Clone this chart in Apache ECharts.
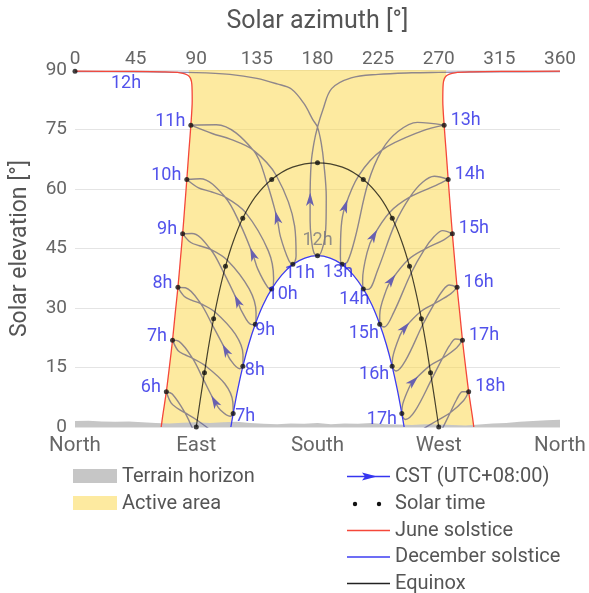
<!DOCTYPE html>
<html>
<head>
<meta charset="utf-8">
<title>Sun path</title>
<script src="https://cdn.jsdelivr.net/npm/echarts@6/dist/echarts.min.js"></script>
<style>
  html, body { margin: 0; padding: 0; background: #fff; }
  #chart { width: 589px; height: 593px; }
</style>
</head>
<body>
<div id="chart"></div>
<script>
// azimuth / elevation in degrees
const compassLabels = ['North', 'East', 'South', 'West', 'North'];

const horizon = [[0,1.5],[10,1.6],[20,1.4],[30,1.3],[40,1.4],[50,1.2],[60,1.0],[70,0.9],[80,1.1],[90,1.2],
  [100,1.0],[110,1.2],[120,1.3],[130,1.0],[140,0.8],[150,0.7],[160,0.9],[170,0.8],[180,1.0],[190,0.7],
  [200,0.9],[210,0.8],[220,1.0],[230,0.7],[240,0.6],[250,0.5],[260,0.7],[270,0.6],[280,0.5],[290,0.4],
  [300,0.6],[310,0.9],[320,1.0],[330,1.3],[340,1.5],[350,1.7],[360,1.8]];

const juneAm = [[64.0,0],[65.1,2.8],[67.8,8.9],[70.2,15.5],[72.4,21.9],[74.4,28.7],[76.4,35.2],[78.2,42.1],
  [79.9,48.7],[81.5,55.7],[83.0,62.4],[84.5,69.4],[86.0,76.1],[87.0,82.3],[86.7,86.5],[84.5,88.5],
  [78,89.3],[65,89.55],[40,89.65],[0,89.7]];
const junePm = [[360,89.7],[320,89.65],[295,89.55],[282,89.3],[275.5,88.5],[273.3,86.5],[273.0,82.3],
  [274.0,76.1],[275.5,69.4],[277.0,62.4],[278.5,55.7],[280.1,48.7],[281.8,42.1],[283.6,35.2],[285.6,28.7],
  [287.6,21.9],[289.8,15.5],[292.2,8.9],[294.9,2.8],[296.0,0]];
const decLine = [[115.7,0],[117.4,3.4],[120.8,9.5],[124.6,15.3],[128.9,20.8],[133.8,25.9],[139.5,30.7],
  [146.0,34.8],[153.4,38.3],[161.7,41.0],[170.6,42.6],[180,43.2],[189.4,42.6],[198.3,41.0],[206.6,38.3],
  [214.0,34.8],[220.5,30.7],[226.2,25.9],[231.1,20.8],[235.4,15.3],[239.2,9.5],[242.6,3.4],[244.3,0]];
const equinoxLine = [[90,0],[93.0,6.9],[96.1,13.7],[99.3,20.6],[102.9,27.3],[107.0,34.0],[111.7,40.5],
  [117.4,46.7],[124.5,52.6],[133.8,58.0],[146.0,62.4],[161.5,65.5],[180,66.6],[198.5,65.5],[214.0,62.4],
  [226.2,58.0],[235.5,52.6],[242.6,46.7],[248.3,40.5],[253.0,34.0],[257.1,27.3],[260.7,20.6],[263.9,13.7],
  [267.0,6.9],[270,0]];

// solar-time dots
const juneNoon = [[0,89.7]];
const juneDotsAm = [[67.8,8.9],[72.4,21.9],[76.4,35.2],[79.9,48.7],[83.0,62.4],[86.0,76.1]];
const juneDotsPm = [[274.0,76.1],[277.0,62.4],[280.1,48.7],[283.6,35.2],[287.6,21.9],[292.2,8.9]];
const equinoxDots = [[90,0],[96.1,13.7],[102.9,27.3],[111.7,40.5],[124.5,52.6],[146.0,62.4],[180,66.6],
  [214.0,62.4],[235.5,52.6],[248.3,40.5],[257.1,27.3],[263.9,13.7],[270,0]];
const decDots = [[117.4,3.4],[124.6,15.3],[133.8,25.9],[146.0,34.8],[161.7,41.0],[180,43.2],
  [198.3,41.0],[214.0,34.8],[226.2,25.9],[235.4,15.3],[242.6,3.4]];

const hoursAm = ['6h','7h','8h','9h','10h','11h'];
const hoursPm = ['13h','14h','15h','16h','17h','18h'];
const decHours = ['7h','8h','9h','10h','11h','12h','13h','14h','15h','16h','17h'];

// CST hour analemmas: Jun, Jul, Aug, cross, Sep, Nov, Dec1, Dec21, Jan, Feb, (arrow), Mar, cross, May, Jun
const a06 = [[67.8,8.9],[71.3,6.1],[75.7,4.8],[81.6,3.6],[90.7,1.7],[104.9,-2.2],[111.2,-6.1],[111.7,-9.1],
  [109.6,-10.1],[102.1,-9.0],[98.5,-6.5],[89.3,-1.7],[81.6,3.6],[72.2,8.3],[67.8,8.9]];
const a07 = [[72.4,21.9],[76.4,19.3],[81.1,18.3],[87.3,17.3],[96.9,15.4],[111.2,10.9],[117.1,6.4],[117.4,3.4],
  [115.2,2.7],[107.9,4.3],[103.9,6.3],[95.3,12.0],[87.3,17.3],[77.2,21.6],[72.4,21.9]];
const a08 = [[76.4,35.2],[81.2,32.9],[86.4,32.0],[93.3,31.1],[103.9,29.0],[119.0,23.4],[124.7,18.2],[124.6,15.3],
  [122.2,14.7],[114.8,17.2],[112.1,19.2],[102.0,25.7],[93.3,31.1],[81.9,35.1],[76.4,35.2]];
const a09 = [[79.9,48.7],[86.0,46.5],[92.3,45.7],[100.6,44.8],[112.9,42.1],[129.3,34.8],[134.4,28.8],[133.8,25.9],
  [131.2,25.8],[123.7,29.2],[120.8,31.6],[110.4,38.9],[100.6,44.8],[86.8,48.8],[79.9,48.7]];
const a10 = [[83.0,62.4],[91.7,60.3],[100.2,59.4],[111.3,58.0],[126.5,54.1],[143.5,44.4],[147.4,37.5],[146.0,34.8],
  [143.1,35.2],[135.7,39.8],[132.1,43.4],[122.5,51.2],[111.3,58.0],[92.9,62.6],[83.0,62.4]];
const a11 = [[86.0,76.1],[101.8,74.0],[115.7,72.5],[132.3,69.8],[149.4,63.4],[163.0,50.7],[164.1,43.2],[161.7,41.0],
  [158.8,41.9],[152.5,48.0],[150.0,52.6],[142.5,61.5],[132.3,69.8],[104.9,76.2],[86.0,76.1]];
const a12 = [[0,89.6],[45,89.55],[90,89.35],[115,88.9],[135,87.9],[150,86.5],[160.6,85.2],[170,81.5],[176.5,77.5],
  [180,75.6],[182.8,71.5],[184.7,66.5],[186.5,58],[186.3,51.4],[184.8,46.5],[180.6,43.2],[177.5,43.8],[175.4,47.5],
  [174.5,52],[174.5,57.2],[175.3,66.5],[177.3,71.5],[180,75.6],[184,80],[190.5,85.3],[205,88.0],[225,88.9],
  [250,89.3],[270,89.4],[315,89.55],[360,89.6]];
const a13 = [[274.0,76.1],[254.2,76.8],[239.7,74.5],[227.8,69.8],[217.5,61.5],[208.1,47.9],[202.3,41.7],[198.3,41.0],
  [197.0,43.0],[197.6,50.5],[200.4,55.5],[210.6,63.4],[227.8,69.8],[257.4,74.6],[274.0,76.1]];
const a14 = [[277.0,62.4],[266.7,63.2],[258.0,61.7],[248.7,58.0],[237.5,51.2],[224.7,39.6],[217.7,34.7],[214.0,34.8],
  [213.5,37.1],[216.9,44.1],[221.5,48.1],[233.5,54.1],[248.7,58.0],[268.0,60.9],[277.0,62.4]];
const a15 = [[280.1,48.7],[272.9,49.5],[266.6,48.0],[259.4,44.8],[249.6,38.9],[236.6,28.9],[229.5,25.2],[226.2,25.9],
  [226.2,28.2],[231.0,34.5],[234.6,36.9],[247.1,42.1],[259.4,44.8],[273.8,47.2],[280.1,48.7]];
const a16 = [[283.6,35.2],[277.8,35.8],[272.7,34.3],[266.7,31.1],[258.0,25.7],[245.4,16.8],[238.3,14.1],[235.4,15.3],
  [235.8,17.5],[241.2,23.1],[244.5,24.9],[256.2,29.0],[266.7,31.1],[278.6,33.5],[283.6,35.2]];
const a17 = [[287.6,21.9],[282.5,22.2],[278.0,20.5],[272.7,17.3],[264.7,12.0],[252.3,4.0],[245.2,1.9],[242.6,3.4],
  [243.2,5.7],[248.9,10.6],[250.7,11.4],[263.2,15.4],[272.7,17.3],[283.3,20.0],[287.6,21.9]];
const a18 = [[292.2,8.9],[287.6,8.9],[283.4,7.0],[278.5,3.6],[270.7,-1.7],[258.1,-9.3],[250.7,-10.8],[248.3,-9.1],
  [249.2,-6.9],[255.2,-2.5],[257.5,-0.8],[269.3,1.7],[278.5,3.6],[288.5,6.7],[292.2,8.9]];

const FONT = 'Roboto';
const analemmaColor = 'rgba(70,68,125,0.6)';
const arrowColor = '#6860b0';
const labelBlue = '#2626e6';
const yellow = 'rgba(251,214,66,0.5)';
const terrainGrey = '#c6c6c6';

const analemmas = [
  { pts: a06, arrow: 10 }, { pts: a07, arrow: 10 }, { pts: a08, arrow: 10 }, { pts: a09, arrow: 10 },
  { pts: a10, arrow: 10 }, { pts: a11, arrow: 10 }, { pts: a12, arrow: 19 }, { pts: a13, arrow: 10 },
  { pts: a14, arrow: 10 }, { pts: a15, arrow: 10 }, { pts: a16, arrow: 10 }, { pts: a17, arrow: 10 },
  { pts: a18, arrow: 10 }
];

const arrowData = analemmas
  .filter(a => a.pts[a.arrow][1] > 0)
  .map(a => {
    const p = a.pts, i = a.arrow;
    return [p[i][0], p[i][1], p[i - 1][0], p[i - 1][1], p[i + 1][0], p[i + 1][1]];
  });

const activeArea = [].concat(juneAm.slice(0, 16), [[84.5, 90], [275.5, 90]], junePm.slice(4), decLine.slice().reverse());

// label placement (px) around the December dots
const decLabelOffsets = [[12,3],[12,4],[10,6],[11,6],[7,9],[0,-15],[-4,8],[-9,11],[-16,9],[-18,8],[-20,6]];

const chart = echarts.init(document.getElementById('chart'));

const labelStyle = { fontFamily: FONT, fontSize: 18, color: labelBlue };

const series = [
  {
    name: 'Active area',
    type: 'custom',
    z: 1,
    silent: true,
    data: [[0, 0]],
    renderItem: function (params, api) {
      return {
        type: 'polygon',
        shape: { points: activeArea.map(p => api.coord(p)) },
        style: { fill: yellow }
      };
    }
  },
  {
    name: 'Terrain horizon',
    type: 'line',
    z: 2,
    data: horizon,
    symbol: 'none',
    lineStyle: { width: 0 },
    areaStyle: { color: terrainGrey, opacity: 1, origin: 'start' }
  }
];

analemmas.forEach(a => {
  series.push({
    name: 'CST (UTC+08:00)',
    type: 'line',
    z: 3,
    data: a.pts,
    smooth: 0.35,
    symbol: 'none',
    lineStyle: { color: analemmaColor, width: 1.4 }
  });
});

series.push(
  { name: 'Equinox', type: 'line', z: 4, data: equinoxLine, smooth: 0.3, symbol: 'none',
    lineStyle: { color: 'rgba(0,0,0,0.72)', width: 1.2 } },
  { name: 'December solstice', type: 'line', z: 4, data: decLine, smooth: 0.3, symbol: 'none',
    lineStyle: { color: '#3d3df2', width: 1.3 } },
  { name: 'June solstice', type: 'line', z: 4, data: juneAm, smooth: 0.3, symbol: 'none',
    lineStyle: { color: '#f5473a', width: 1.3 } },
  { name: 'June solstice', type: 'line', z: 4, data: junePm, smooth: 0.3, symbol: 'none',
    lineStyle: { color: '#f5473a', width: 1.3 } },
  {
    name: 'arrows',
    type: 'custom',
    z: 5,
    silent: true,
    data: arrowData,
    renderItem: function (params, api) {
      const c = api.coord([api.value(0), api.value(1)]);
      const a = api.coord([api.value(2), api.value(3)]);
      const b = api.coord([api.value(4), api.value(5)]);
      let dx = b[0] - a[0], dy = b[1] - a[1];
      const len = Math.hypot(dx, dy) || 1;
      dx /= len; dy /= len;
      const nx = -dy, ny = dx;
      const L = 7.5, B = 6, W = 4, N = 2.5;
      return {
        type: 'polygon',
        shape: { points: [
          [c[0] + dx * L, c[1] + dy * L],
          [c[0] - dx * B + nx * W, c[1] - dy * B + ny * W],
          [c[0] - dx * N, c[1] - dy * N],
          [c[0] - dx * B - nx * W, c[1] - dy * B - ny * W]
        ] },
        style: { fill: arrowColor }
      };
    }
  },
  {
    name: 'Solar time',
    type: 'scatter',
    z: 6,
    symbolSize: 5,
    itemStyle: { color: '#111' },
    data: [].concat(juneNoon, juneDotsAm, juneDotsPm, equinoxDots, decDots)
  },
  {
    type: 'scatter', z: 7, symbolSize: 1, itemStyle: { color: 'transparent' },
    data: juneDotsAm.map((p, i) => [p[0], p[1], hoursAm[i]]),
    label: Object.assign({ show: true, position: 'left', distance: 5, offset: [0, -4],
      formatter: p => p.value[2] }, labelStyle)
  },
  {
    type: 'scatter', z: 7, symbolSize: 1, itemStyle: { color: 'transparent' },
    data: juneDotsPm.map((p, i) => [p[0], p[1], hoursPm[i]]),
    label: Object.assign({ show: true, position: 'right', distance: 6, offset: [0, -5],
      formatter: p => p.value[2] }, labelStyle)
  },
  {
    type: 'scatter', z: 7, symbolSize: 1, itemStyle: { color: 'transparent' },
    data: juneNoon.map(p => [p[0], p[1], '12h']),
    label: Object.assign({ show: true, position: 'inside', offset: [51, 12],
      formatter: p => p.value[2] }, labelStyle)
  },
  {
    type: 'scatter', z: 7, symbolSize: 1, itemStyle: { color: 'transparent' },
    data: decDots.map((p, i) => ({
      value: [p[0], p[1], decHours[i]],
      label: { offset: decLabelOffsets[i], color: decHours[i] === '12h' ? '#77777f' : labelBlue }
    })),
    label: Object.assign({ show: true, position: 'inside', formatter: p => p.value[2] }, labelStyle)
  }
);

const legendText = { font: '20px Roboto', fill: '#555', verticalAlign: 'middle' };
const graphic = [
  { type: 'rect', shape: { x: 73, y: 469, width: 44, height: 14 }, style: { fill: terrainGrey } },
  { type: 'text', x: 122, y: 476.5, style: Object.assign({ text: 'Terrain horizon' }, legendText) },
  { type: 'rect', shape: { x: 73, y: 496, width: 44, height: 14 }, style: { fill: yellow } },
  { type: 'text', x: 122, y: 503.5, style: Object.assign({ text: 'Active area' }, legendText) },

  { type: 'line', shape: { x1: 347, y1: 476.5, x2: 390, y2: 476.5 }, style: { stroke: '#3535f0', lineWidth: 1.3 } },
  { type: 'polygon', shape: { points: [[377, 476.5], [362, 472.5], [365, 476.5], [362, 480.5]] }, style: { fill: '#3535f0' } },
  { type: 'text', x: 395, y: 476.5, style: Object.assign({ text: 'CST (UTC+08:00)' }, legendText) },
  { type: 'circle', shape: { cx: 355, cy: 504, r: 2.2 }, style: { fill: '#111' } },
  { type: 'circle', shape: { cx: 379, cy: 504, r: 2.2 }, style: { fill: '#111' } },
  { type: 'text', x: 395, y: 503.5, style: Object.assign({ text: 'Solar time' }, legendText) },
  { type: 'line', shape: { x1: 347, y1: 530.5, x2: 390, y2: 530.5 }, style: { stroke: '#f5473a', lineWidth: 1.3 } },
  { type: 'text', x: 395, y: 530.5, style: Object.assign({ text: 'June solstice' }, legendText) },
  { type: 'line', shape: { x1: 347, y1: 557, x2: 390, y2: 557 }, style: { stroke: '#3d3df2', lineWidth: 1.3 } },
  { type: 'text', x: 395, y: 557, style: Object.assign({ text: 'December solstice' }, legendText) },
  { type: 'line', shape: { x1: 347, y1: 583.5, x2: 390, y2: 583.5 }, style: { stroke: '#222', lineWidth: 1.3 } },
  { type: 'text', x: 395, y: 583.5, style: Object.assign({ text: 'Equinox' }, legendText) }
];

const option = {
  animation: false,
  textStyle: { fontFamily: FONT },
  grid: { left: 75, right: 29, top: 70, bottom: 166 },
  xAxis: [
    {
      type: 'value', position: 'top', min: 0, max: 360, interval: 45,
      name: 'Solar azimuth [°]', nameLocation: 'middle', nameGap: 36,
      nameTextStyle: { fontSize: 25, color: '#555', fontFamily: FONT },
      axisLine: { show: false }, axisTick: { show: false }, splitLine: { show: false },
      axisLabel: { color: '#666', fontSize: 19, margin: 1, fontFamily: FONT }
    },
    {
      type: 'value', position: 'bottom', min: 0, max: 360, interval: 90,
      axisLine: { show: false }, axisTick: { show: false }, splitLine: { show: false },
      axisLabel: { color: '#666', fontSize: 20.5, margin: 8, fontFamily: FONT,
        formatter: v => compassLabels[Math.round(v / 90)] }
    }
  ],
  yAxis: {
    type: 'value', min: 0, max: 90, interval: 15,
    name: 'Solar elevation [°]', nameLocation: 'middle', nameGap: 43,
    nameTextStyle: { fontSize: 23, color: '#555', fontFamily: FONT },
    axisLine: { show: false }, axisTick: { show: false },
    splitLine: { lineStyle: { color: '#e4e4e4', width: 1 } },
    axisLabel: { color: '#666', fontSize: 19, margin: 8, fontFamily: FONT }
  },
  graphic: graphic,
  series: series
};

chart.setOption(option);
</script>
</body>
</html>
